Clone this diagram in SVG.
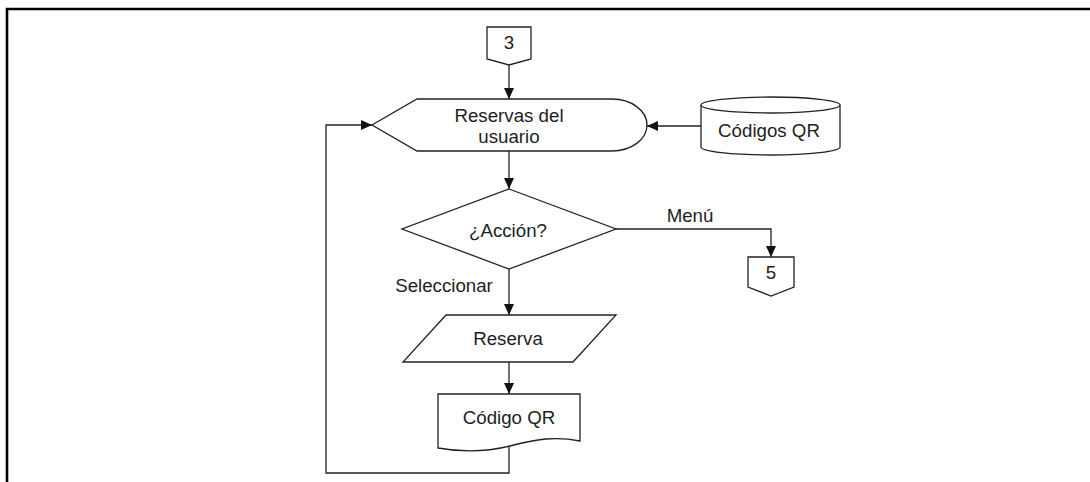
<svg xmlns="http://www.w3.org/2000/svg" width="1090" height="482" viewBox="0 0 1090 482">
  <style>
    .shape { fill: #ffffff; stroke: #222222; stroke-width: 1.3; }
    .edge { fill: none; stroke: #222222; stroke-width: 1.3; }
    .label { font-family: "Liberation Sans", Arial, sans-serif; font-size: 18.7px; fill: #1e1e1e; text-anchor: middle; }
    .frame { fill: none; stroke: #000000; stroke-width: 2.6; }
  </style>
  <defs>
    <marker id="arrow" markerUnits="userSpaceOnUse" markerWidth="11" markerHeight="10" refX="11" refY="5" orient="auto">
      <path d="M0,0 L11,5 L0,10 Z" fill="#111111"/>
    </marker>
  </defs>

  <rect width="1090" height="482" fill="#ffffff"/>
  <path class="frame" d="M7,482 V9 H1090"/>

  <g id="connectors">
    <path class="edge" d="M509,65 V99" marker-end="url(#arrow)"/>
    <path class="edge" d="M701,126 H647" marker-end="url(#arrow)"/>
    <path class="edge" d="M509,151 V189" marker-end="url(#arrow)"/>
    <path class="edge" d="M616,229 H771 V257" marker-end="url(#arrow)"/>
    <path class="edge" d="M509,269 V315" marker-end="url(#arrow)"/>
    <path class="edge" d="M509,362 V394" marker-end="url(#arrow)"/>
    <path class="edge" d="M509,446 V473 H326 V125 H372" marker-end="url(#arrow)"/>
    <text class="label" x="690" y="222">Menú</text>
    <text class="label" x="444" y="292">Seleccionar</text>
  </g>

  <g id="offpage-3">
    <path class="shape" d="M487,27 H531 V59 L509,65 L487,59 Z"/>
    <text class="label" x="509" y="49">3</text>
  </g>

  <g id="display-reservas">
    <path class="shape" d="M372,125 L417,99 H612 A35,26 0 0 1 612,151 H417 Z"/>
    <text class="label" x="509" y="122">Reservas del</text>
    <text class="label" x="509" y="143">usuario</text>
  </g>

  <g id="store-codigos">
    <path class="shape" d="M701,105 V147 A69.5,8 0 0 0 840,147 V105 A69.5,8 0 0 0 701,105 Z"/>
    <path class="shape" d="M701,105 A69.5,8 0 0 0 840,105" fill="none"/>
    <text class="label" x="769" y="137">Códigos QR</text>
  </g>

  <g id="decision-accion">
    <path class="shape" d="M509,189 L616,229 L509,269 L402,229 Z"/>
    <text class="label" x="508" y="237">¿Acción?</text>
  </g>

  <g id="offpage-5">
    <path class="shape" d="M748,257 H794 V287 L771,296 L748,287 Z"/>
    <text class="label" x="771" y="279">5</text>
  </g>

  <g id="input-reserva">
    <path class="shape" d="M446,315 H616 L573,362 H403 Z"/>
    <text class="label" x="508" y="345">Reserva</text>
  </g>

  <g id="document-codigo">
    <path class="shape" d="M438,394 H580 V441 C556,436 536,439 510,446 C486,452 460,452 438,448 Z"/>
    <text class="label" x="509" y="424">Código QR</text>
  </g>
</svg>
